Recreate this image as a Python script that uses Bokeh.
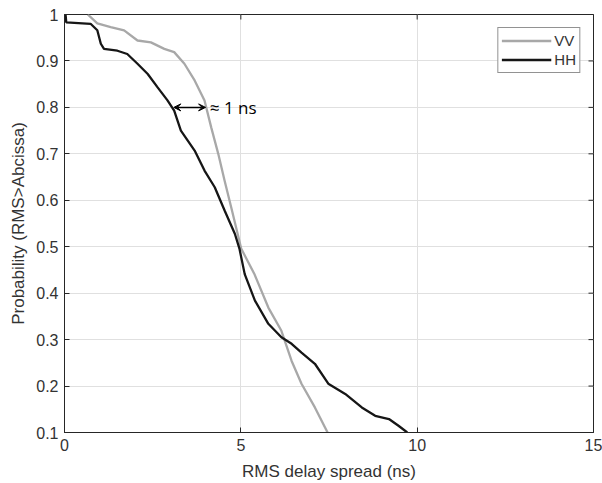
from bokeh.plotting import figure
from bokeh.models import (Range1d, Arrow, VeeHead, Label, Legend, LegendItem, FixedTicker)
from bokeh.embed import file_html
from bokeh.resources import INLINE

# --- data ---
vv_x = [0.66, 0.93, 1.31, 1.69, 2.07, 2.45, 2.83, 3.11, 3.40, 3.69, 3.97, 4.16, 4.36, 4.54,
        4.73, 5.01, 5.38, 5.78, 6.15, 6.44, 6.72, 7.10, 7.46]
vv_y = [1.0, 0.981, 0.973, 0.966, 0.944, 0.940, 0.926, 0.919, 0.894, 0.858, 0.815, 0.757,
        0.700, 0.642, 0.584, 0.496, 0.442, 0.369, 0.319, 0.254, 0.205, 0.154, 0.10]
hh_x = [0.03, 0.05, 0.74, 0.93, 1.03, 1.12, 1.50, 1.78, 2.07, 2.36, 2.64, 2.92, 3.11, 3.30,
        3.69, 3.97, 4.26, 4.54, 4.83, 4.96, 5.11, 5.40, 5.78, 6.15, 6.44, 6.72, 7.10, 7.48,
        7.96, 8.43, 8.81, 9.20, 9.48, 9.72]
hh_y = [1.0, 0.983, 0.980, 0.966, 0.937, 0.926, 0.922, 0.915, 0.894, 0.872, 0.843, 0.815,
        0.793, 0.750, 0.707, 0.664, 0.628, 0.578, 0.528, 0.496, 0.441, 0.384, 0.334, 0.305,
        0.291, 0.272, 0.248, 0.205, 0.183, 0.154, 0.136, 0.129, 0.114, 0.10]
x_ticks = [0, 5, 10, 15]
y_ticks = [0.1, 0.2, 0.3, 0.4, 0.5, 0.6, 0.7, 0.8, 0.9, 1.0]
y_labels = {0.1: "0.1", 0.2: "0.2", 0.3: "0.3", 0.4: "0.4", 0.5: "0.5", 0.6: "0.6",
            0.7: "0.7", 0.8: "0.8", 0.9: "0.9", 1.0: "1"}
arrow_x = [3.1, 4.0]
arrow_y = 0.8
note = "\u2248 1 ns"

FONT = "Liberation Sans"
AX = "#262626"
p = figure(width=602, height=483, output_backend="svg", toolbar_location=None,
           x_range=Range1d(0, 15), y_range=Range1d(0.1, 1.0),
           min_border_left=64, min_border_right=9, min_border_top=14, min_border_bottom=51)

p.background_fill_color = "white"
p.border_fill_color = "white"
p.outline_line_color = AX
p.outline_line_width = 1

for ax in (p.xaxis[0], p.yaxis[0]):
    ax.major_tick_in = 5
    ax.major_tick_out = 0
    ax.minor_tick_line_color = None
    ax.axis_line_color = AX
    ax.major_tick_line_color = AX
    ax.major_label_text_font = FONT
    ax.major_label_text_font_size = "16px"
    ax.major_label_text_color = "#333333"
    ax.axis_label_text_font = FONT
    ax.axis_label_text_font_size = "17px"
    ax.axis_label_text_font_style = "normal"
    ax.axis_label_text_color = "#333333"

p.xaxis.ticker = FixedTicker(ticks=x_ticks)
p.yaxis.ticker = FixedTicker(ticks=y_ticks)
p.yaxis.major_label_overrides = y_labels
p.xaxis.axis_label = "RMS delay spread (ns)"
p.yaxis.axis_label = "Probability (RMS>Abcissa)"
p.xaxis.axis_label_standoff = 8
p.yaxis.axis_label_standoff = 5
p.xaxis.major_label_standoff = 6
p.yaxis.major_label_standoff = 6

p.xgrid.ticker = FixedTicker(ticks=x_ticks)
p.ygrid.ticker = FixedTicker(ticks=y_ticks)
p.grid.grid_line_color = "#e0e0e0"
p.grid.grid_line_width = 1

# inward ticks on the right and top edges (MATLAB box style)
p.scatter([15] * len(y_ticks), y_ticks, marker="dash", size=10, line_color=AX, line_width=1)
p.scatter(x_ticks, [1.0] * len(x_ticks), marker="dash", angle=1.5708, size=10,
          line_color=AX, line_width=1)

r_vv = p.line(vv_x, vv_y, line_color="#a8a8a8", line_width=2.3)
r_hh = p.line(hh_x, hh_y, line_color="#161616", line_width=2.3)

p.add_layout(Arrow(start=VeeHead(size=7, line_color="black", fill_color="black"),
                   end=VeeHead(size=7, line_color="black", fill_color="black"),
                   x_start=arrow_x[0], x_end=arrow_x[1], y_start=arrow_y, y_end=arrow_y,
                   line_color="black", line_width=1.5))
p.add_layout(Label(x=arrow_x[1] + 0.12, y=arrow_y, text=note, text_font="Open Sans",
                   text_font_size="17px", text_baseline="middle", text_color="black"))

legend = Legend(items=[LegendItem(label="VV", renderers=[r_vv]),
                       LegendItem(label="HH", renderers=[r_hh])],
                location="top_right", label_text_font=FONT, label_text_font_size="15px",
                label_text_color="#333333", border_line_color=AX, border_line_width=1,
                background_fill_alpha=1, glyph_width=50, glyph_height=19, spacing=0,
                padding=3, margin=13, label_standoff=3, label_height=19)
p.add_layout(legend)

open("out.html", "w").write(file_html(p, INLINE))
